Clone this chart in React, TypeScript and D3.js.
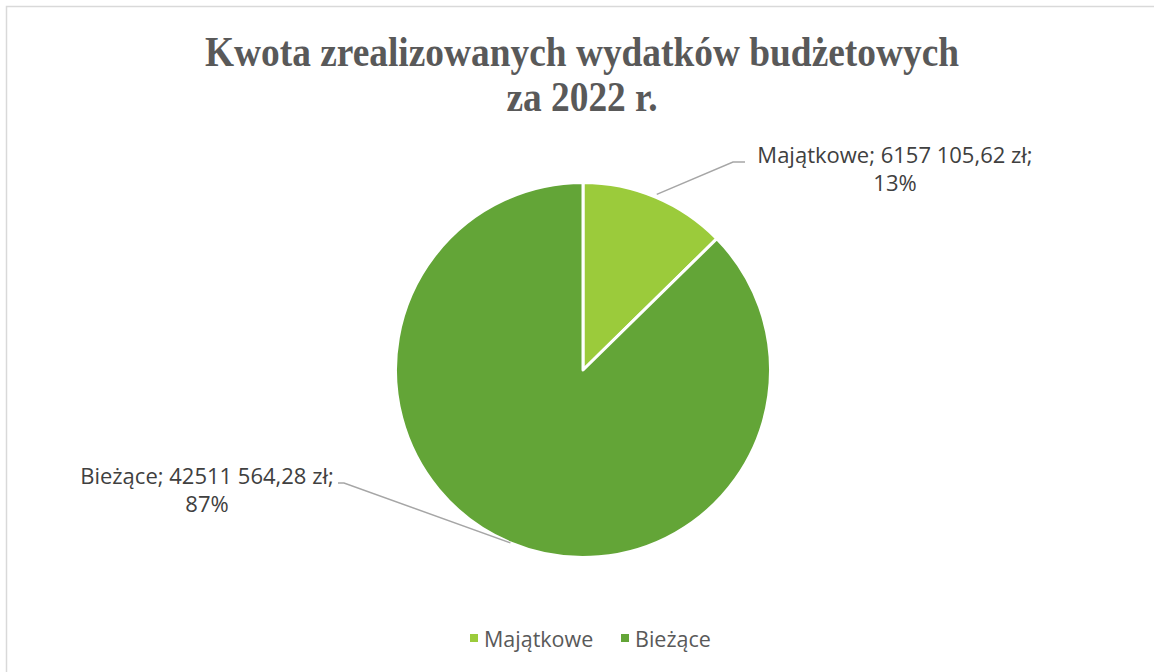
import React from "react";
import * as d3 from "d3";

const categories = ["Majątkowe", "Bieżące"];
const values = [6157105.62, 42511564.28];
const valueLabels = ["6157 105,62 zł", "42511 564,28 zł"];
const percentLabels = ["13%", "87%"];
const colors = ["#9BCB3B", "#63A537"];
const titleLines = ["Kwota zrealizowanych wydatków budżetowych", "za 2022 r."];

const W = 1154;
const H = 672;

export default function App() {
  const cx = 583;
  const cy = 370;
  const r = 187.5;
  const pie = d3.pie<number>().sort(null).startAngle(0).endAngle(2 * Math.PI);
  const arcs = pie(values);
  const arcGen = d3.arc<d3.PieArcDatum<number>>().innerRadius(0).outerRadius(r);

  const mid = (a: d3.PieArcDatum<number>) => (a.startAngle + a.endAngle) / 2;
  const pt = (ang: number, rr: number) => [cx + rr * Math.sin(ang), cy - rr * Math.cos(ang)];

  const labelFont = "'Open Sans', 'Noto Sans', sans-serif";

  const labelPos = [
    { x: 895, y: 163, lineEnd: [745, 162], elbow: [733, 162] },
    { x: 207, y: 484, lineEnd: [338, 483], elbow: [344, 483] },
  ];

  const titleCx = 582;
  const sx = 0.89;

  return (
    <svg width={W} height={H} style={{ position: "absolute", left: 0, top: 0, display: "block" }}>
      <rect x={0} y={0} width={W} height={H} fill="#fff" />
      <rect x={6.5} y={6.5} width={W + 10} height={H + 10} fill="none" stroke="#D9D9D9" strokeWidth={1.5} />
      <g transform={`translate(${titleCx},0) scale(${sx},1)`}>
        {titleLines.map((t, i) => (
          <text
            key={i}
            x={0}
            y={66 + i * 45}
            textAnchor="middle"
            fontFamily="'Liberation Serif', 'Times New Roman', serif"
            fontWeight="bold"
            fontSize={42}
            fill="#595959"
          >
            {t}
          </text>
        ))}
      </g>
      <g>
        {arcs.map((a, i) => (
          <path
            key={i}
            d={arcGen(a) || ""}
            transform={`translate(${cx},${cy})`}
            fill={colors[i]}
            stroke="#fff"
            strokeWidth={3}
            strokeLinejoin="round"
          />
        ))}
      </g>
      <g>
        {arcs.map((a, i) => {
          const p = pt(mid(a), r + (i === 0 ? 3 : 0));
          const lp = labelPos[i];
          return (
            <polyline
              key={i}
              points={`${p[0]},${p[1]} ${lp.elbow[0]},${lp.elbow[1]} ${lp.lineEnd[0]},${lp.lineEnd[1]}`}
              fill="none"
              stroke="#A6A6A6"
              strokeWidth={1.5}
            />
          );
        })}
      </g>
      <g>
        {arcs.map((a, i) => {
          const lp = labelPos[i];
          return (
            <text key={i} textAnchor="middle" fontFamily={labelFont} fontSize={22} fill="#404040">
              <tspan x={lp.x} y={lp.y}>{`${categories[i]}; ${valueLabels[i]};`}</tspan>
              <tspan x={lp.x} y={lp.y + 28}>{percentLabels[i]}</tspan>
            </text>
          );
        })}
      </g>
      <g>
        {categories.map((c, i) => {
          const xs = [470, 621];
          return (
            <g key={i}>
              <rect x={xs[i]} y={634} width={8} height={8} fill={colors[i]} />
              <text x={xs[i] + 14} y={647} fontFamily={labelFont} fontSize={21.5} fill="#595959">
                {c}
              </text>
            </g>
          );
        })}
      </g>
    </svg>
  );
}
